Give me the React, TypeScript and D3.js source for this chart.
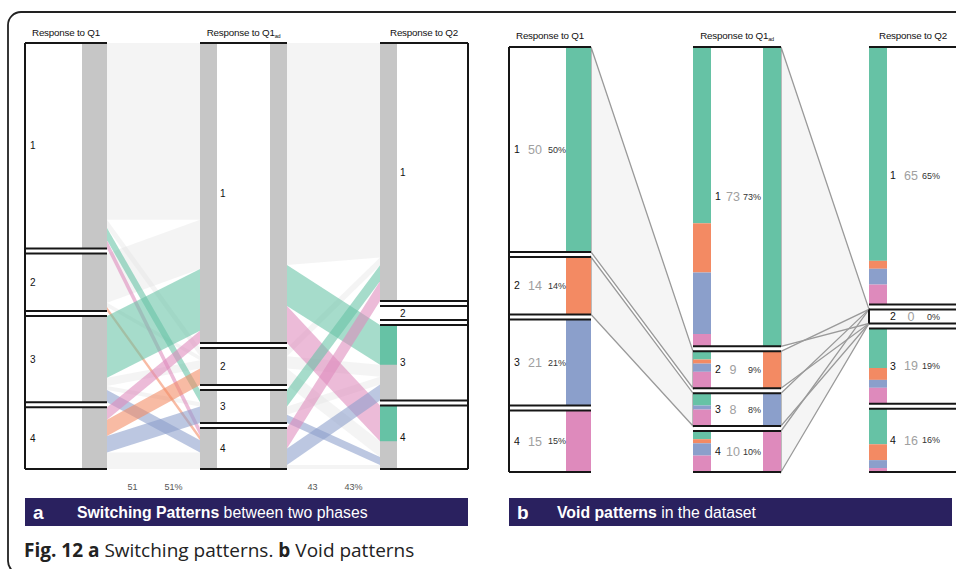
import React from 'react';
import * as d3 from 'd3';

// Response categories shared by all three questions
const categories = ['1', '2', '3', '4'];
const q1Counts = [50, 14, 21, 15];
const q1adCounts = [73, 9, 8, 10];
const q2Counts = [65, 0, 19, 16];

// Transitions: rows = earlier answer, columns = later answer
const q1ToQ1ad = [
  [43, 2, 3, 2],
  [12, 1, 0, 1],
  [15, 2, 1, 3],
  [3, 4, 4, 4],
];
const q1adToQ2 = [
  [54, 0, 10, 9],
  [2, 0, 3, 4],
  [4, 0, 2, 2],
  [5, 0, 4, 1],
];

// Highlight hue for the switching ribbons (-1 = background ribbon)
const q1ToQ1adHue = [
  [-1, -1, 0, 3],
  [-1, -1, -1, 1],
  [0, -1, -1, 2],
  [3, 1, 2, -1],
];
const q1adToQ2Hue = [
  [-1, -1, 0, 3],
  [-1, -1, -1, -1],
  [0, -1, -1, 2],
  [3, -1, 2, -1],
];
// Q1ad answer whose switchers are traced on the Q2 axis
const tracedSource = 0;

// Void links: [from category, to category]
const voidLinksQ1 = [[0, 1], [1, 2]];
const voidLinksQ2 = [[0, 1], [1, 1], [2, 1], [3, 1]];

const palette = ['#66c2a5', '#f38a63', '#8b9fcb', '#de8abc'];
const barGrey = '#c6c6c6';
const lineColor = '#161616';
const navy = '#2a215f';
const sans = '"Liberation Sans", Arial, Helvetica, sans-serif';

type Box = { y0: number; y1: number; unit: d3.ScaleLinear<number, number> };

function layout(values: number[], top: number, bottom: number, gap = 5, minH = 14): Box[] {
  const zeros = values.filter((v) => v === 0).length;
  const avail = bottom - top - gap * (values.length - 1) - zeros * minH;
  const unit = d3.scaleLinear().domain([0, d3.sum(values)]).range([0, avail]);
  let y = top;
  return values.map((v) => {
    const h = v === 0 ? minH : unit(v);
    const b = { y0: y, y1: y + h, unit };
    y += h + gap;
    return b;
  });
}

type Ribbon = { i: number; j: number; v: number; s0: number; s1: number; t0: number; t1: number };

function ribbons(matrix: number[][], src: Box[], tgt: Box[]): Ribbon[] {
  const out: Ribbon[] = [];
  const sOff = src.map((b) => b.y0);
  const tPos: { t0: number; t1: number }[][] = matrix.map(() => []);
  tgt.forEach((b, j) => {
    let y = b.y0;
    matrix.forEach((row, i) => {
      const h = b.unit(row[j]);
      tPos[i][j] = { t0: y, t1: y + h };
      y += h;
    });
  });
  matrix.forEach((row, i) => {
    row.forEach((v, j) => {
      const h = src[i].unit(v);
      out.push({ i, j, v, s0: sOff[i], s1: sOff[i] + h, ...tPos[i][j] });
      sOff[i] += h;
    });
  });
  return out;
}

const ribbonPath = (r: Ribbon, x0: number, x1: number) =>
  `M${x0},${r.s0}L${x1},${r.t0}L${x1},${r.t1}L${x0},${r.s1}Z`;

const funnelPath = (a: Box, b: Box, x0: number, x1: number) =>
  `M${x0},${a.y0}L${x1},${b.y0}L${x1},${b.y1}L${x0},${a.y1}Z`;

function AxisTitle({ x, y, label, sub }: { x: number; y: number; label: string; sub?: string }) {
  return (
    <text x={x} y={y} textAnchor="middle" fontFamily={sans} fontSize={9.8} fill="#111" letterSpacing={-0.2}>
      {label}
      {sub && (
        <tspan fontSize={5.5} dy={2.5}>
          {sub}
        </tspan>
      )}
    </text>
  );
}

function BoxLines({ boxes, x0, x1 }: { boxes: Box[]; x0: number; x1: number }) {
  return (
    <g stroke={lineColor} strokeWidth={2}>
      {boxes.map((b, k) => (
        <g key={k}>
          <line x1={x0} x2={x1} y1={b.y0} y2={b.y0} />
          <line x1={x0} x2={x1} y1={b.y1} y2={b.y1} />
        </g>
      ))}
    </g>
  );
}

// Panel a: switching patterns
function PanelA() {
  const top = 43;
  const bottom = 469;
  const q1 = { left: 25, bar: 82, right: 107 };
  const ad = { left: 200, right: 287, w: 17 };
  const q2 = { left: 380, right: 468, w: 17 };
  const b1 = layout(q1Counts, top, bottom);
  const b2 = layout(q1adCounts, top, bottom);
  const b3 = layout(q2Counts, top, bottom);
  const r1 = ribbons(q1ToQ1ad, b1, b2);
  const r2 = ribbons(q1adToQ2, b2, b3);
  const switched = (m: number[][]) => d3.sum(m.flatMap((row, i) => row.filter((_, j) => j !== i)));
  const total = d3.sum(q1Counts);
  const gaps = [
    { n: switched(q1ToQ1ad), cx: (q1.right + ad.left) / 2 },
    { n: switched(q1adToQ2), cx: (ad.right + q2.left) / 2 },
  ];
  const bg = (rs: Ribbon[], hue: number[][], x0: number, x1: number) =>
    rs
      .filter((r) => r.v > 0 && hue[r.i][r.j] < 0)
      .map((r, k) => <path key={k} d={ribbonPath(r, x0, x1)} fill="#e4e4e4" fillOpacity={0.4} />);
  const fg = (rs: Ribbon[], hue: number[][], x0: number, x1: number) =>
    rs
      .filter((r) => r.v > 0 && hue[r.i][r.j] >= 0)
      .map((r, k) => (
        <path key={k} d={ribbonPath(r, x0, x1)} fill={palette[hue[r.i][r.j]]} fillOpacity={0.58} />
      ));
  return (
    <g>
      <AxisTitle x={(q1.left + q1.right) / 2} y={35.5} label="Response to Q1" />
      <AxisTitle x={(ad.left + ad.right) / 2} y={35.5} label="Response to Q1" sub="ad" />
      <AxisTitle x={(q2.left + q2.right) / 2} y={35.5} label="Response to Q2" />

      {bg(r1, q1ToQ1adHue, q1.right, ad.left)}
      {bg(r2, q1adToQ2Hue, ad.right, q2.left)}
      {fg(r1, q1ToQ1adHue, q1.right, ad.left)}
      {fg(r2, q1adToQ2Hue, ad.right, q2.left)}

      {b1.map((b, k) => (
        <rect key={k} x={q1.bar} y={b.y0} width={q1.right - q1.bar} height={b.y1 - b.y0} fill={barGrey} />
      ))}
      {b2.map((b, k) => (
        <g key={k}>
          <rect x={ad.left} y={b.y0} width={ad.w} height={b.y1 - b.y0} fill={barGrey} />
          <rect x={ad.right - ad.w} y={b.y0} width={ad.w} height={b.y1 - b.y0} fill={barGrey} />
        </g>
      ))}
      {b3.map((b, k) =>
        q2Counts[k] > 0 ? (
          <rect key={k} x={q2.left} y={b.y0} width={q2.w} height={b.y1 - b.y0} fill={barGrey} />
        ) : null
      )}
      {r2
        .filter((r) => r.i === tracedSource && r.j !== r.i && r.v > 0)
        .map((r, k) => (
          <rect key={k} x={q2.left} y={r.t0} width={q2.w} height={r.t1 - r.t0} fill={palette[tracedSource]} />
        ))}

      <BoxLines boxes={b1} x0={q1.left} x1={q1.right} />
      <BoxLines boxes={b2} x0={ad.left} x1={ad.right} />
      <BoxLines boxes={b3} x0={q2.left} x1={q2.right} />
      <line x1={q1.left} x2={q1.left} y1={top} y2={bottom} stroke={lineColor} strokeWidth={2} />
      <line x1={q2.right} x2={q2.right} y1={top} y2={bottom} stroke={lineColor} strokeWidth={2} />

      <g fontFamily={sans} fontSize={10} fill="#111">
        {b1.map((b, k) => (
          <text key={k} x={q1.left + 5} y={(b.y0 + b.y1) / 2} dy="0.35em">
            {categories[k]}
          </text>
        ))}
        {b2.map((b, k) => (
          <text key={k} x={ad.left + ad.w + 3} y={(b.y0 + b.y1) / 2} dy="0.35em">
            {categories[k]}
          </text>
        ))}
        {b3.map((b, k) => (
          <text key={k} x={q2.left + q2.w + 3} y={(b.y0 + b.y1) / 2} dy="0.35em">
            {categories[k]}
          </text>
        ))}
      </g>

      <g fontFamily={sans} fontSize={9} fill="#555" textAnchor="middle">
        {gaps.map((g, k) => (
          <g key={k}>
            <text x={g.cx - 21} y={490}>
              {g.n}
            </text>
            <text x={g.cx + 20} y={490}>
              {Math.round((g.n / total) * 100)}%
            </text>
          </g>
        ))}
      </g>

      <rect x={25} y={498} width={443} height={28} fill={navy} />
      <text x={33} y={518.5} fontFamily={sans} fontSize={19} fontWeight="bold" fill="#fff">
        a
      </text>
      <text x={77} y={518} fontFamily={sans} fontSize={15.8} fill="#fff">
        <tspan fontWeight="bold">Switching Patterns</tspan> between two phases
      </text>
    </g>
  );
}

// Panel b: void patterns
function PanelB() {
  const top = 47;
  const bottom = 472;
  const q1 = { left: 509, bar: 566, right: 591 };
  const ad = { left: 693, right: 781, w: 18 };
  const q2 = { left: 869, right: 962, w: 18 };
  const b1 = layout(q1Counts, top, bottom);
  const b2 = layout(q1adCounts, top, bottom);
  const b3 = layout(q2Counts, top, bottom);
  const r1 = ribbons(q1ToQ1ad, b1, b2);
  const r2 = ribbons(q1adToQ2, b2, b3);
  const total = d3.sum(q1Counts);

  const funnels = [
    ...voidLinksQ1.map(([a, b]) => funnelPath(b1[a], b2[b], q1.right, ad.left)),
    ...voidLinksQ2.map(([a, b]) => funnelPath(b2[a], b3[b], ad.right, q2.left)),
  ];

  const labels = (
    boxes: Box[],
    counts: number[],
    x: number,
    countDx: number,
    pctRight: number
  ) =>
    boxes.map((b, k) => {
      const y = (b.y0 + b.y1) / 2;
      return (
        <g key={k} fontFamily={sans}>
          <text x={x} y={y} dy="0.35em" fontSize={10.5} fill="#111">
            {categories[k]}
          </text>
          <text x={x + countDx} y={y} dy="0.35em" fontSize={12.5} fill="#a0a0a0" textAnchor="middle">
            {counts[k]}
          </text>
          <text x={pctRight} y={y} dy="0.35em" fontSize={9} fill="#333" textAnchor="end">
            {Math.round((counts[k] / total) * 100)}%
          </text>
        </g>
      );
    });

  return (
    <g>
      <AxisTitle x={(q1.left + q1.right) / 2} y={38.5} label="Response to Q1" />
      <AxisTitle x={(ad.left + ad.right) / 2} y={38.5} label="Response to Q1" sub="ad" />
      <AxisTitle x={913} y={38.5} label="Response to Q2" />

      {funnels.map((d, k) => (
        <path key={k} d={d} fill="#f1f1f1" fillOpacity={0.7} />
      ))}
      {funnels.map((d, k) => (
        <path key={k} d={d} fill="none" stroke="#9a9a9a" strokeWidth={1.3} />
      ))}

      {b1.map((b, k) => (
        <rect key={k} x={q1.bar} y={b.y0} width={q1.right - q1.bar} height={b.y1 - b.y0} fill={palette[k]} />
      ))}
      {r1
        .filter((r) => r.v > 0)
        .map((r, k) => (
          <rect key={k} x={ad.left} y={r.t0} width={ad.w} height={r.t1 - r.t0} fill={palette[r.i]} />
        ))}
      {b2.map((b, k) => (
        <rect key={k} x={ad.right - ad.w} y={b.y0} width={ad.w} height={b.y1 - b.y0} fill={palette[k]} />
      ))}
      {r2
        .filter((r) => r.v > 0)
        .map((r, k) => (
          <rect key={k} x={q2.left} y={r.t0} width={q2.w} height={r.t1 - r.t0} fill={palette[r.i]} />
        ))}

      <BoxLines boxes={b1} x0={q1.left} x1={q1.right} />
      <BoxLines boxes={b2} x0={ad.left} x1={ad.right} />
      <BoxLines boxes={b3} x0={q2.left} x1={q2.right} />
      <line x1={q1.left} x2={q1.left} y1={top} y2={bottom} stroke={lineColor} strokeWidth={2} />
      <line x1={q2.left} x2={q2.left} y1={b3[1].y0} y2={b3[1].y1} stroke={lineColor} strokeWidth={2} />

      {labels(b1, q1Counts, q1.left + 5, 21, q1.bar)}
      {labels(b2, q1adCounts, ad.left + ad.w + 4, 18, ad.right - ad.w - 2)}
      {labels(b3, q2Counts, q2.left + q2.w + 3, 21, 940)}

      <rect x={509} y={498} width={443} height={28} fill={navy} />
      <text x={517} y={518.5} fontFamily={sans} fontSize={19} fontWeight="bold" fill="#fff">
        b
      </text>
      <text x={557} y={518} fontFamily={sans} fontSize={15.8} fill="#fff">
        <tspan fontWeight="bold">Void patterns</tspan> in the dataset
      </text>
    </g>
  );
}

export default function App() {
  return (
    <svg
      width={956}
      height={569}
      viewBox="0 0 956 569"
      style={{ position: 'absolute', left: 0, top: 0, background: '#fff' }}
    >
      <rect x={0} y={0} width={956} height={569} fill="#fff" />
      <rect x={8} y={12} width={970} height={562} rx={13} fill="none" stroke="#222" strokeWidth={1.8} />
      <PanelA />
      <PanelB />
      <text x={24} y={557} fontFamily='"Open Sans", "Noto Sans", sans-serif' fontSize={19} fill="#222">
        <tspan fontWeight="bold">Fig. 12 a</tspan> Switching patterns. <tspan fontWeight="bold">b</tspan> Void
        patterns
      </text>
    </svg>
  );
}
